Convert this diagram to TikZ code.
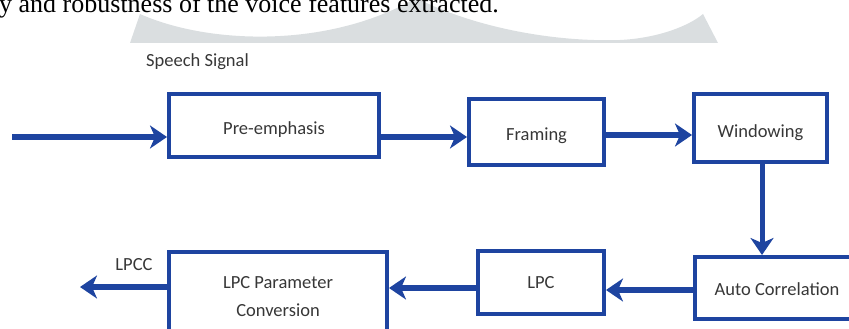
\documentclass[tikz,border=0pt]{standalone}
\usepackage{fontspec}
\setmainfont{Liberation Serif}
\newfontfamily\carl{Carlito}
\usetikzlibrary{arrows.meta}
\definecolor{bl}{RGB}{30,68,160}
\definecolor{tx}{RGB}{55,55,55}
\definecolor{wm}{RGB}{218,222,224}
\begin{document}
\begin{tikzpicture}[x=1pt,y=-1pt,
  box/.style={draw=bl, line width=4pt, inner sep=0pt, font=\carl\fontsize{18.5}{28}\selectfont, text=tx, align=center},
  low/.style={text height=#1, text depth=0pt},
  lbl/.style={inner sep=0pt, font=\carl\fontsize{18.5}{28}\selectfont, text=tx},
  arr/.style={draw=bl, line width=6pt, -{Stealth[length=17pt,width=23pt,inset=5pt]}}]
\useasboundingbox (0,0) rectangle (849,329);
\fill[wm] (130,43) -- (140,14) .. controls (210,45) and (330,48) .. (416,-2)
  .. controls (480,30) and (560,42) .. (620,40) .. controls (660,38) and (690,25) .. (703,14)
  -- (718,43) -- cycle;
\node[anchor=base west, inner sep=0pt, font=\fontsize{26}{30}\selectfont] (toptext) at (-1,13) {y and robustness of the voice features extracted.};

\node[box, low=18pt, minimum width=210pt, minimum height=63pt] (pre) at (274,125.5) {Pre-emphasis};
\node[box, low=16pt, minimum width=135pt, minimum height=66pt] (fram) at (536.5,132) {Framing};
\node[box, low=18pt, minimum width=133pt, minimum height=68pt] (wind) at (760.5,128) {Windowing};
\node[box, low=15pt, minimum width=164pt, minimum height=62pt] (auto) at (777,288) {Auto Correlation};
\node[box, minimum width=126pt, minimum height=63pt] (lpc) at (541,282.5) {LPC};
\node[box, minimum width=218pt, minimum height=90pt] (lpcp) at (278,297) {LPC Parameter\\Conversion};

\node[lbl] (speech) at (197.5,62) {Speech Signal};
\node[lbl] (lpcc) at (134,265) {LPCC};

\coordinate (in) at (12,137);
\coordinate (out) at (80,287);

\draw[arr] (in) -- (pre.west |- in);
\draw[arr] (pre.east |- in) -- (fram.west |- in);
\draw[arr] ([yshift=-3pt]fram.east) -- ([yshift=-3pt]fram.east -| wind.west);
\draw[arr, line width=5pt] (wind.south -| 762,0) -- (auto.north -| 762,0);
\draw[arr] ([yshift=-2pt]auto.west) -- ([yshift=-2pt]auto.west -| lpc.east);
\draw[arr] ([yshift=-5.5pt]lpc.west) -- ([yshift=-5.5pt]lpc.west -| lpcp.east);
\draw[arr] (lpcp.west |- out) -- (out);
\end{tikzpicture}
\end{document}
